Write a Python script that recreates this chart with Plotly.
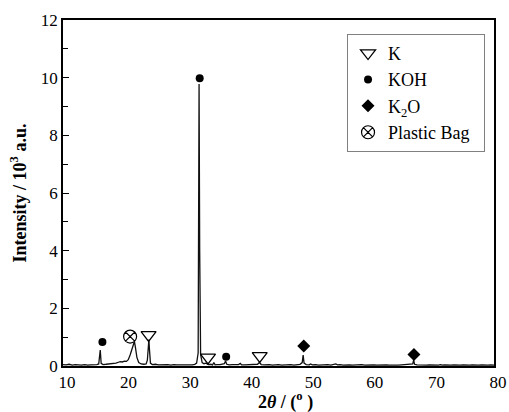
import plotly.graph_objects as go

# XRD pattern (2theta in degrees, intensity in 10^3 a.u.)
two_theta = [10.0, 10.5, 11.0, 11.5, 12.0, 12.5, 13.0, 13.5, 14.0, 14.5, 15.0, 15.5,
             15.8, 15.95, 16.05, 16.2, 16.5, 17.0, 17.5, 18.0, 18.3, 18.6, 19.0, 19.3,
             19.6, 20.0, 20.3, 20.6, 20.9, 21.2, 21.45, 21.6, 21.75, 22.0, 22.3, 22.7,
             23.1, 23.5, 23.7, 23.85, 23.95, 24.05, 24.2, 24.5, 25.0, 25.5, 26.0, 26.5,
             27.0, 27.5, 28.0, 28.5, 29.0, 29.5, 30.0, 30.5, 31.0, 31.4, 31.7, 31.95,
             32.1, 32.2, 32.35, 32.6, 32.9, 33.2, 33.6, 34.0, 34.3, 34.5, 34.7, 35.0,
             35.5, 36.2, 36.4, 36.6, 37.0, 37.5, 38.0, 38.5, 38.8, 39.0, 39.5, 40.0,
             40.5, 41.0, 41.6, 41.9, 42.2, 42.7, 43.5, 44.0, 44.5, 45.0, 45.5, 46.0,
             46.5, 47.0, 47.5, 48.0, 48.5, 48.85, 49.0, 49.15, 49.5, 50.0, 50.2, 50.5,
             51.0, 51.5, 52.0, 52.5, 53.0, 53.5, 54.0, 54.3, 54.6, 55.0, 55.5, 56.0,
             56.5, 57.0, 57.5, 58.0, 58.5, 59.0, 59.5, 60.0, 60.5, 61.0, 61.5, 62.0,
             62.5, 63.0, 63.5, 64.0, 64.5, 65.0, 65.5, 66.0, 66.5, 66.8, 66.95, 67.1,
             67.5, 68.0, 68.5, 69.0, 69.5, 70.0, 70.5, 71.0, 71.3, 71.6, 72.0, 72.5,
             73.0, 73.5, 74.0, 74.5, 75.0, 75.5, 76.0, 76.5, 77.0, 77.5, 78.0, 78.5,
             79.0, 79.5, 80.0]
intensity = [0.05, 0.04, 0.06, 0.03, 0.05, 0.04, 0.03, 0.05, 0.03, 0.04, 0.04, 0.05,
             0.07, 0.40, 0.55, 0.09, 0.05, 0.06, 0.07, 0.09, 0.11, 0.10, 0.13, 0.15,
             0.14, 0.17, 0.16, 0.22, 0.38, 0.62, 0.82, 0.85, 0.66, 0.30, 0.12, 0.07,
             0.06, 0.07, 0.20, 0.75, 0.92, 0.55, 0.10, 0.05, 0.06, 0.04, 0.05, 0.04,
             0.05, 0.03, 0.05, 0.04, 0.04, 0.05, 0.03, 0.05, 0.04, 0.06, 0.10, 0.45,
             9.78, 4.00, 0.40, 0.12, 0.08, 0.10, 0.05, 0.06, 0.04, 0.12, 0.04, 0.05,
             0.05, 0.08, 0.17, 0.06, 0.04, 0.05, 0.04, 0.05, 0.09, 0.04, 0.04, 0.05,
             0.04, 0.05, 0.06, 0.12, 0.05, 0.04, 0.05, 0.03, 0.04, 0.05, 0.03, 0.04,
             0.04, 0.05, 0.03, 0.05, 0.06, 0.12, 0.38, 0.10, 0.05, 0.04, 0.07, 0.04,
             0.05, 0.03, 0.04, 0.04, 0.05, 0.03, 0.04, 0.07, 0.04, 0.05, 0.03, 0.04,
             0.04, 0.03, 0.04, 0.03, 0.05, 0.03, 0.04, 0.03, 0.04, 0.03, 0.04, 0.03,
             0.04, 0.03, 0.04, 0.03, 0.03, 0.04, 0.05, 0.04, 0.05, 0.07, 0.20, 0.06,
             0.04, 0.03, 0.04, 0.03, 0.04, 0.03, 0.04, 0.03, 0.05, 0.03, 0.04, 0.03,
             0.03, 0.04, 0.03, 0.03, 0.04, 0.03, 0.03, 0.04, 0.03, 0.03, 0.04, 0.03,
             0.03, 0.04, 0.03]

# Phase markers (position, height)
k_x = [23.9, 33.55, 41.95]
k_y = [1.08, 0.30, 0.35]
koh_x = [16.4, 32.2, 36.5]
koh_y = [0.83, 9.98, 0.32]
k2o_x = [49.1, 67.0]
k2o_y = [0.69, 0.40]
bag_x = [20.9]
bag_y = [1.02]

x_ticks = [10, 20, 30, 40, 50, 60, 70, 80]
y_ticks = [0, 2, 4, 6, 8, 10, 12]

FONT = "Liberation Serif"

fig = go.Figure()
fig.add_trace(go.Scatter(x=two_theta, y=intensity, mode="lines",
                         line=dict(color="#111111", width=1.3), showlegend=False,
                         hoverinfo="skip"))
fig.add_trace(go.Scatter(x=k_x, y=k_y, mode="markers", name="K",
                         marker=dict(symbol="triangle-down-open", size=13,
                                     color="black", line=dict(width=1.3))))
fig.add_trace(go.Scatter(x=koh_x, y=koh_y, mode="markers", name="KOH",
                         marker=dict(symbol="circle", size=8, color="black")))
fig.add_trace(go.Scatter(x=k2o_x, y=k2o_y, mode="markers", name="K<sub>2</sub>O",
                         marker=dict(symbol="diamond", size=10, color="black")))
fig.add_trace(go.Scatter(x=bag_x, y=bag_y, mode="markers", name="Plastic Bag&nbsp;&nbsp;",
                         marker=dict(symbol="circle-x-open", size=13,
                                     color="black", line=dict(width=1.2))))

fig.update_layout(
    width=509, height=412,
    margin=dict(l=63, r=15, t=20, b=46, autoexpand=False),
    paper_bgcolor="white", plot_bgcolor="white",
    font=dict(family=FONT, size=17, color="black"),
    showlegend=True,
    legend=dict(x=0.659, y=0.96, xanchor="left", yanchor="top",
                bordercolor="#808080", borderwidth=1, bgcolor="white",
                font=dict(family=FONT, size=18), tracegroupgap=0,
                itemwidth=30),
    xaxis=dict(range=[10, 80], tickvals=x_ticks, showgrid=False, zeroline=False,
               showline=True, linecolor="black", linewidth=1.5, mirror=True,
               ticks="", tickfont=dict(family=FONT, size=17), automargin=False,
               ticklabelshift=4),
    yaxis=dict(range=[0, 12], tickvals=y_ticks, showgrid=False, zeroline=False,
               showline=True, linecolor="black", linewidth=1.5, mirror=True,
               ticks="inside", ticklen=6, tickcolor="black", automargin=False,
               minor=dict(ticks="inside", ticklen=5, dtick=1, tickcolor="black"),
               tickfont=dict(family=FONT, size=17),
               title=dict(text="<b>Intensity / 10<sup>3</sup> a.u.</b>",
                          font=dict(family=FONT, size=18), standoff=10)),
    annotations=[dict(text="<b>2<i>θ</i> / (<sup>o</sup> )</b>", xref="paper",
                      yref="paper", x=0.5, y=0, xanchor="center", yanchor="top",
                      xshift=7, yshift=-21, showarrow=False,
                      font=dict(family=FONT, size=18))],
)

fig.write_html("out.html", config={"displayModeBar": False},
               post_script="document.body.style.margin='0';document.body.style.overflow='hidden';")
